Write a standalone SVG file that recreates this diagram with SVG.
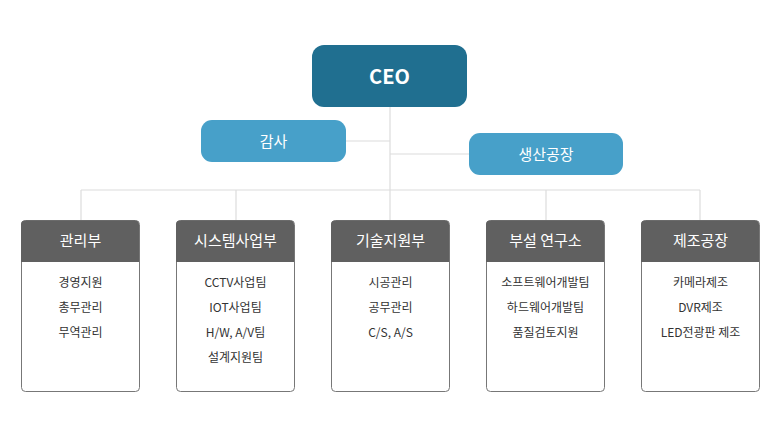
<svg xmlns="http://www.w3.org/2000/svg" width="780" height="430" viewBox="0 0 780 430">
<style>
text{font-family:"Noto Sans CJK KR","Noto Sans",sans-serif;text-anchor:middle}
.con line{stroke:#dcdcdc;stroke-width:1.2;fill:none}
.ceo rect{fill:#206f90}
.sub rect{fill:#47a0c9}
.t1{fill:#fff;font-size:20px;font-weight:bold}
.t2{fill:#fff;font-size:15px}
.box{fill:#fff;stroke:#777;stroke-width:1}
.hd{fill:#606060}
.it{fill:#333;font-size:12px}
</style>
<rect width="780" height="430" fill="#fff"/>
<g class="con">
<line x1="390" y1="107" x2="390" y2="190"/>
<line x1="346" y1="141" x2="390" y2="141"/>
<line x1="390" y1="154" x2="469" y2="154"/>
<line x1="81" y1="190" x2="700" y2="190"/>
<line x1="81" y1="190" x2="81" y2="220"/>
<line x1="236" y1="190" x2="236" y2="220"/>
<line x1="390" y1="190" x2="390" y2="220"/>
<line x1="546" y1="190" x2="546" y2="220"/>
<line x1="700" y1="190" x2="700" y2="220"/>
</g>
<g id="ceo" class="ceo"><rect x="312" y="45" width="155" height="62" rx="12"/><text class="t1" x="389.5" y="84">CEO</text></g>
<g id="audit" class="sub"><rect x="201" y="120" width="145" height="42" rx="11"/><text class="t2" x="273.5" y="146.5">감사</text></g>
<g id="factory" class="sub"><rect x="469" y="133" width="154" height="42" rx="11"/><text class="t2" x="546" y="159.5">생산공장</text></g>
<g id="d1"><rect class="box" x="21.5" y="220.5" width="118" height="171" rx="4"/><path class="hd" d="M21 262V224.5a4 4 0 0 1 4-4h110a4 4 0 0 1 4 4V262z"/><text class="t2" x="80.5" y="246">관리부</text>
<text class="it" x="80.5" y="287">경영지원</text><text class="it" x="80.5" y="312">총무관리</text><text class="it" x="80.5" y="337">무역관리</text></g>
<g id="d2"><rect class="box" x="176.5" y="220.5" width="118" height="171" rx="4"/><path class="hd" d="M176 262V224.5a4 4 0 0 1 4-4h110a4 4 0 0 1 4 4V262z"/><text class="t2" x="235.5" y="246">시스템사업부</text>
<text class="it" x="235.5" y="287">CCTV사업팀</text><text class="it" x="235.5" y="312">IOT사업팀</text><text class="it" x="235.5" y="337">H/W, A/V팀</text><text class="it" x="235.5" y="362">설계지원팀</text></g>
<g id="d3"><rect class="box" x="331.5" y="220.5" width="118" height="171" rx="4"/><path class="hd" d="M331 262V224.5a4 4 0 0 1 4-4h110a4 4 0 0 1 4 4V262z"/><text class="t2" x="390.5" y="246">기술지원부</text>
<text class="it" x="390.5" y="287">시공관리</text><text class="it" x="390.5" y="312">공무관리</text><text class="it" x="390.5" y="337">C/S, A/S</text></g>
<g id="d4"><rect class="box" x="486.5" y="220.5" width="118" height="171" rx="4"/><path class="hd" d="M486 262V224.5a4 4 0 0 1 4-4h110a4 4 0 0 1 4 4V262z"/><text class="t2" x="545.5" y="246">부설 연구소</text>
<text class="it" x="545.5" y="287">소프트웨어개발팀</text><text class="it" x="545.5" y="312">하드웨어개발팀</text><text class="it" x="545.5" y="337">품질검토지원</text></g>
<g id="d5"><rect class="box" x="641.5" y="220.5" width="118" height="171" rx="4"/><path class="hd" d="M641 262V224.5a4 4 0 0 1 4-4h110a4 4 0 0 1 4 4V262z"/><text class="t2" x="700.5" y="246">제조공장</text>
<text class="it" x="700.5" y="287">카메라제조</text><text class="it" x="700.5" y="312">DVR제조</text><text class="it" x="700.5" y="337">LED전광판 제조</text></g>
</svg>
